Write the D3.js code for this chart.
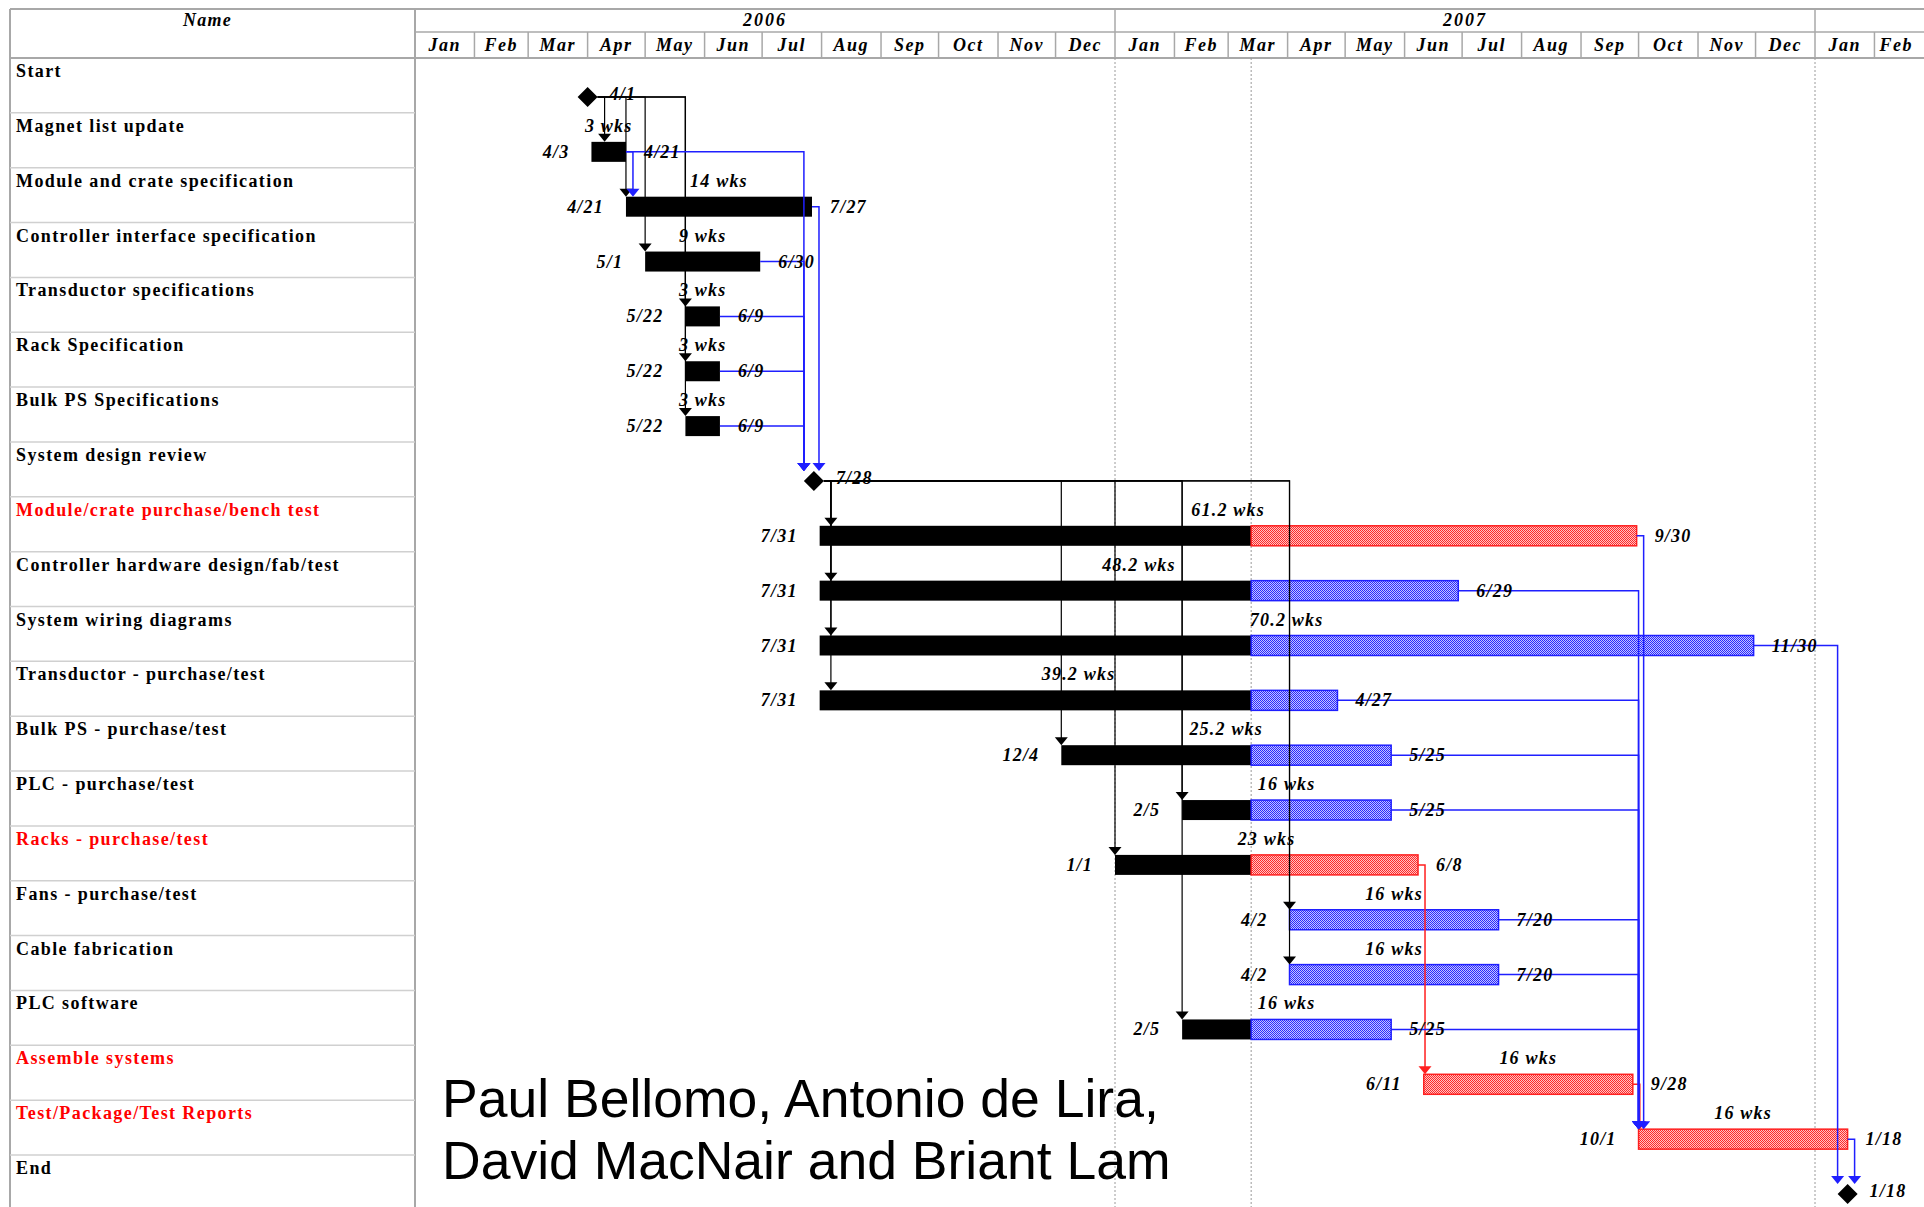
<!DOCTYPE html>
<html>
<head>
<meta charset="utf-8">
<script src="https://cdn.jsdelivr.net/npm/d3@7"></script>
<style>
  body { margin: 0; background: #fff; }
  svg { display: block; }
</style>
</head>
<body>
<div id="chart"></div>
<script>
// task table
const tasks = [
  "Start", "Magnet list update", "Module and crate specification",
  "Controller interface specification", "Transductor specifications",
  "Rack Specification", "Bulk PS Specifications", "System design review",
  "Module/crate purchase/bench test", "Controller hardware design/fab/test",
  "System wiring diagrams", "Transductor - purchase/test", "Bulk PS - purchase/test",
  "PLC - purchase/test", "Racks - purchase/test", "Fans - purchase/test",
  "Cable fabrication", "PLC software", "Assemble systems",
  "Test/Package/Test Reports", "End"
];
const starts = [
  "2006-04-01", "2006-04-03", "2006-04-21", "2006-05-01", "2006-05-22",
  "2006-05-22", "2006-05-22", "2006-07-28", "2006-07-31", "2006-07-31",
  "2006-07-31", "2006-07-31", "2006-12-04", "2007-02-05", "2007-01-01",
  "2007-04-02", "2007-04-02", "2007-02-05", "2007-06-11", "2007-10-01",
  "2008-01-18"
];
const finishes = [
  "2006-04-01", "2006-04-21", "2006-07-27", "2006-06-30", "2006-06-09",
  "2006-06-09", "2006-06-09", "2006-07-28", "2007-09-30", "2007-06-29",
  "2007-11-30", "2007-04-27", "2007-05-25", "2007-05-25", "2007-06-08",
  "2007-07-20", "2007-07-20", "2007-05-25", "2007-09-28", "2008-01-18",
  "2008-01-18"
];
// weeks, 0 = milestone
const durations = [0, 3, 14, 9, 3, 3, 3, 0, 61.2, 48.2, 70.2, 39.2, 25.2, 16, 23, 16, 16, 16, 16, 16, 0];
const criticalTasks = ["Module/crate purchase/bench test", "Racks - purchase/test", "Assemble systems", "Test/Package/Test Reports"];

// dependencies (index of predecessor -> successor)
const linkFrom     = [0, 0, 0, 0, 0, 0, 1, 1, 2, 3, 4, 5, 6, 7, 7, 7, 7, 7, 7, 7, 7, 7, 7, 14, 18, 8, 9, 11, 12, 13, 15, 16, 17, 10, 19];
const linkTo       = [1, 2, 3, 4, 5, 6, 2, 7, 7, 7, 7, 7, 7, 8, 9, 10, 11, 12, 13, 14, 15, 16, 17, 18, 19, 19, 19, 19, 19, 19, 19, 19, 19, 20, 20];
const linkCritical = [0, 0, 0, 0, 0, 0, 0, 0, 0, 0, 0, 0, 0, 0, 0, 0, 0, 0, 0, 0, 0, 0, 0, 1, 1, 0, 0, 0, 0, 0, 0, 0, 0, 0, 0];

const statusDate = "2007-03-13";
const footerLines = ["Paul Bellomo, Antonio de Lira,", "David MacNair and Briant Lam"];

const width = 1924;
const height = 1207;
const parse = d3.utcParse("%Y-%m-%d");
const md = d => `${d.getUTCMonth() + 1}/${d.getUTCDate()}`;

const nameL = 10, nameR = 415;
const headTop = 9, headMid = 32, headBot = 58;
const rowH = 54.85;
const barH = 20, half = 10;
const serif = "'Liberation Serif', 'DejaVu Serif', serif";
const blue = "#1f1fff", red = "#ff1f1f";

const x = d3.scaleUtc()
  .domain([parse("2006-01-01"), parse("2008-01-01")])
  .range([nameR, 1815]);

const y = d3.scaleBand()
  .domain(d3.range(tasks.length))
  .range([headBot, headBot + rowH * tasks.length]);

const rows = tasks.map((name, i) => ({
  i, name,
  start: parse(starts[i]),
  finish: parse(finishes[i]),
  dur: durations[i],
  milestone: durations[i] === 0,
  crit: criticalTasks.includes(name)
}));
const cy = i => y(i) + 39;
const status = parse(statusDate);

const svg = d3.select("#chart")
  .append("svg")
    .attr("width", width)
    .attr("height", height)
    .style("background-color", "#fff");

const defs = svg.append("defs");
[["hatch-red", "#ffc4c4", "#ff2a2a"], ["hatch-blue", "#c4c4ff", "#2a2aff"]].forEach(([id, bg, fg]) => {
  const p = defs.append("pattern")
    .attr("id", id)
    .attr("patternUnits", "userSpaceOnUse")
    .attr("width", 2).attr("height", 2);
  p.append("rect").attr("width", 2).attr("height", 2).attr("fill", bg);
  p.append("rect").attr("width", 1).attr("height", 1).attr("fill", fg);
  p.append("rect").attr("x", 1).attr("y", 1).attr("width", 1).attr("height", 1).attr("fill", fg);
});

/// header grid
const grid = svg.append("g").attr("stroke", "#a8a8a8").attr("stroke-width", 1.5);
grid.append("line").attr("x1", nameL).attr("x2", width).attr("y1", headTop).attr("y2", headTop).attr("stroke-width", 2);
grid.append("line").attr("x1", nameR).attr("x2", width).attr("y1", headMid).attr("y2", headMid);
grid.append("line").attr("x1", nameL).attr("x2", width).attr("y1", headBot).attr("y2", headBot).attr("stroke-width", 2);
grid.append("line").attr("x1", nameL).attr("x2", nameL).attr("y1", headTop).attr("y2", height).attr("stroke-width", 2);
grid.append("line").attr("x1", nameR).attr("x2", nameR).attr("y1", headTop).attr("y2", height).attr("stroke-width", 2);

// row separators in the name column
svg.append("g")
  .selectAll("line")
  .data(rows.slice(1))
  .join("line")
    .attr("x1", nameL).attr("x2", nameR)
    .attr("y1", d => y(d.i)).attr("y2", d => y(d.i))
    .attr("stroke", "#d0d0d0")
    .attr("stroke-width", 1.5);

const months = d3.utcMonths(parse("2006-01-01"), parse("2008-03-01"));
const years = d3.utcYears(parse("2006-01-01"), parse("2009-01-01"));

grid.selectAll(".mline")
  .data(months.slice(1))
  .join("line")
    .attr("x1", d => x(d)).attr("x2", d => x(d))
    .attr("y1", headMid).attr("y2", headBot);

grid.selectAll(".yline")
  .data(years.slice(1))
  .join("line")
    .attr("x1", d => x(d)).attr("x2", d => x(d))
    .attr("y1", headTop).attr("y2", headMid);

const head = svg.append("g")
  .style("font-family", serif)
  .style("font-weight", "bold")
  .style("font-style", "italic")
  .style("font-size", "18px")
  .attr("text-anchor", "middle")
  .attr("fill", "#000");

head.append("text")
  .attr("x", (nameL + nameR) / 2 - 5).attr("y", 26)
  .style("letter-spacing", "1.2px")
  .text("Name");

// label each month in the middle of its visible part
head.selectAll(".month")
  .data(months)
  .join("text")
    .attr("x", d => (x(d) + Math.min(x(d3.utcMonth.offset(d, 1)), width - 6)) / 2)
    .attr("y", 51)
    .style("letter-spacing", "1.5px")
    .text(d3.utcFormat("%b"));

// only years whose full span is on the page get a label
head.selectAll(".year")
  .data(years.filter(d => x(d3.utcYear.offset(d, 1)) <= width))
  .join("text")
    .attr("x", d => (x(d) + x(d3.utcYear.offset(d, 1))) / 2)
    .attr("y", 26)
    .style("letter-spacing", "2px")
    .text(d3.utcFormat("%Y"));

/// dotted verticals: year boundaries and status date
svg.append("g")
  .selectAll("line")
  .data(years.slice(1).concat([status]))
  .join("line")
    .attr("x1", d => x(d)).attr("x2", d => x(d))
    .attr("y1", headBot).attr("y2", height)
    .attr("stroke", "#9a9a9a")
    .attr("stroke-width", 1)
    .attr("stroke-dasharray", "2,2");

/// task names
svg.append("g")
  .selectAll("text")
  .data(rows)
  .join("text")
    .attr("x", 16)
    .attr("y", d => y(d.i) + 19)
    .style("font-family", serif)
    .style("font-weight", "bold")
    .style("font-size", "18px")
    .style("letter-spacing", "1.4px")
    .attr("fill", d => d.crit ? "#ff0000" : "#000")
    .text(d => d.name);

/// bars
const tasksOnly = rows.filter(d => !d.milestone);
const bars = svg.append("g");

bars.selectAll(".done")
  .data(tasksOnly.filter(d => d.start < status))
  .join("rect")
    .attr("x", d => x(d.start))
    .attr("y", d => cy(d.i) - barH / 2)
    .attr("width", d => x(d.finish < status ? d.finish : status) - x(d.start))
    .attr("height", barH)
    .attr("fill", "#000");

bars.selectAll(".todo")
  .data(tasksOnly.filter(d => d.finish > status))
  .join("rect")
    .attr("x", d => x(d.start > status ? d.start : status))
    .attr("y", d => cy(d.i) - barH / 2)
    .attr("width", d => x(d.finish) - x(d.start > status ? d.start : status))
    .attr("height", barH)
    .attr("fill", d => d.crit ? "url(#hatch-red)" : "url(#hatch-blue)")
    .attr("stroke", d => d.crit ? red : blue)
    .attr("stroke-width", 1.5);

bars.selectAll(".ms")
  .data(rows.filter(d => d.milestone))
  .join("path")
    .attr("d", d => {
      const mx = x(d.start), my = cy(d.i);
      return `M${mx},${my - half}L${mx + half},${my}L${mx},${my + half}L${mx - half},${my}Z`;
    })
    .attr("fill", "#000");

/// links
const links = linkFrom.map((f, k) => {
  const p = rows[f], s = rows[linkTo[k]];
  const sx = p.milestone ? x(p.start) + half : x(p.finish);
  const sy = cy(p.i);
  const tx = Math.max(x(s.start) - (s.milestone ? half : 0), sx + 7);
  const ty = cy(s.i) - (s.milestone ? half : barH / 2);
  const color = p.milestone ? "#000" : (linkCritical[k] ? red : blue);
  return { sx, sy, tx, ty, color };
});

const lg = svg.append("g");
lg.selectAll("path.link")
  .data(links)
  .join("path")
    .attr("d", d => `M${d.sx},${d.sy}H${d.tx}V${d.ty - 7}`)
    .attr("fill", "none")
    .attr("stroke", d => d.color)
    .attr("stroke-width", d => d.color === "#000" ? 1.2 : 1.5);

lg.selectAll("path.head")
  .data(links)
  .join("path")
    .attr("d", d => `M${d.tx - 6.5},${d.ty - 8}L${d.tx + 6.5},${d.ty - 8}L${d.tx},${d.ty}Z`)
    .attr("fill", d => d.color);

/// date and duration labels
const lab = svg.append("g")
  .style("font-family", serif)
  .style("font-weight", "bold")
  .style("font-style", "italic")
  .style("font-size", "18px")
  .style("letter-spacing", "1.2px")
  .attr("fill", "#000");

lab.selectAll(".sl")
  .data(tasksOnly)
  .join("text")
    .attr("x", d => x(d.start) - 22)
    .attr("y", d => cy(d.i) + 6)
    .attr("text-anchor", "end")
    .text(d => md(d.start));

lab.selectAll(".el")
  .data(tasksOnly)
  .join("text")
    .attr("x", d => x(d.finish) + 18)
    .attr("y", d => cy(d.i) + 6)
    .text(d => md(d.finish));

lab.selectAll(".dl")
  .data(tasksOnly)
  .join("text")
    .attr("x", d => (x(d.start) + x(d.finish)) / 2)
    .attr("y", d => cy(d.i) - barH / 2 - 10)
    .attr("text-anchor", "middle")
    .text(d => `${d.dur} wks`);

lab.selectAll(".ml")
  .data(rows.filter(d => d.milestone))
  .join("text")
    .attr("x", d => x(d.start) + 22)
    .attr("y", d => cy(d.i) + 3)
    .text(d => md(d.start));

/// credits
svg.append("g")
  .selectAll("text")
  .data(footerLines)
  .join("text")
    .attr("x", 442)
    .attr("y", (d, i) => 1117 + i * 62)
    .style("font-family", "'Liberation Sans', Arial, sans-serif")
    .style("font-size", "53.5px")
    .attr("fill", "#000")
    .text(d => d);
</script>
</body>
</html>
